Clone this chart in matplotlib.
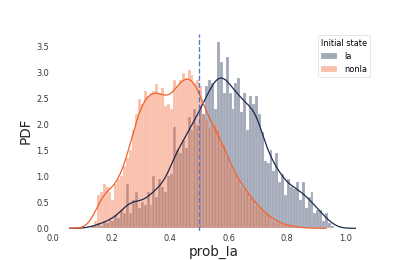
import numpy as np
import matplotlib
matplotlib.use("Agg")
import matplotlib.pyplot as plt

# ---- data (density per bin, bin width 0.01) ----
bin_width = 0.01
ia_start = 0.13
ia_density = [0.05, 0.05, 0.10, 0.05, 0.15, 0.10, 0.20, 0.15, 0.25, 0.20,
              0.35, 0.30, 0.85, 0.30, 0.55, 0.70, 0.40, 0.50, 0.45, 0.70,
              0.45, 1.00, 0.60, 0.95, 0.80, 0.70, 1.00, 1.05, 1.95, 1.50,
              1.45, 1.70, 1.55, 2.15, 1.90, 2.30, 2.00, 2.35, 2.20, 2.75,
              2.85, 2.80, 2.30, 3.60, 3.20, 2.60, 3.30, 2.60, 2.30, 2.80,
              2.90, 2.25, 2.60, 1.90, 2.55, 2.40, 2.55, 2.20, 1.85, 1.30,
              1.25, 1.50, 1.10, 1.45, 0.90, 1.05, 0.65, 0.95, 0.80, 0.75,
              0.90, 0.55, 0.90, 0.40, 0.60, 0.70, 0.30, 0.35, 0.35, 0.15,
              0.30, 0.10, 0.05]
nonia_start = 0.13
nonia_density = [0.05, 0.15, 0.65, 0.70, 0.85, 0.80, 0.70, 0.55, 0.85, 0.95,
                 1.00, 1.20, 1.35, 1.50, 1.90, 2.20, 2.50, 2.40, 2.65, 2.55,
                 2.60, 2.65, 2.78, 2.60, 2.70, 2.35, 2.40, 2.30, 2.85, 2.75,
                 2.85, 3.00, 2.90, 3.05, 2.95, 2.80, 2.85, 2.75, 2.20, 2.10,
                 1.95, 2.05, 2.00, 1.90, 1.65, 1.60, 1.35, 1.20, 1.10, 1.05,
                 0.95, 0.80, 0.75, 0.70, 0.60, 0.55, 0.45, 0.40, 0.35, 0.30,
                 0.25, 0.20, 0.15, 0.12, 0.10, 0.08, 0.06, 0.05, 0.04, 0.03,
                 0.02, 0.02, 0.01]
threshold = 0.5
labels = ["Ia", "nonIa"]
x_ticks = [0.0, 0.2, 0.4, 0.6, 0.8, 1.0]
y_ticks = [0.0, 0.5, 1.0, 1.5, 2.0, 2.5, 3.0, 3.5]

ia_color = "#1b2a4e"
nonia_color = "#f4612d"
bw = 0.026


def edges_for(start, dens):
    return start + bin_width * np.arange(len(dens) + 1)


def weighted_kde(start, dens):
    dens = np.asarray(dens)
    centers = start + bin_width * (np.arange(len(dens)) + 0.5)
    grid = np.linspace(centers.min() - 3 * bw, centers.max() + 3 * bw, 400)
    k = np.exp(-0.5 * ((grid[:, None] - centers[None, :]) / bw) ** 2) / (bw * np.sqrt(2 * np.pi))
    area = dens.sum() * bin_width
    y = (k * dens[None, :]).sum(axis=1) / dens.sum() * area
    return grid, y


fig = plt.figure(figsize=(6.4, 4), dpi=65)
ax = fig.add_axes([0.125, 0.11, 0.775, 0.77])

for start, dens, col, lab in [(ia_start, ia_density, ia_color, labels[0]),
                              (nonia_start, nonia_density, nonia_color, labels[1])]:
    e = edges_for(start, dens)
    ax.bar(e[:-1], dens, width=bin_width, align="edge", color=col, alpha=0.4,
           edgecolor="white", linewidth=0.4, label=lab)
for start, dens, col in [(ia_start, ia_density, ia_color),
                         (nonia_start, nonia_density, nonia_color)]:
    gx, gy = weighted_kde(start, dens)
    ax.plot(gx, gy, color=col, lw=1.4)

ax.axvline(threshold, ymin=0.0, ymax=0.985, color="#4f79d6", ls="--", lw=1.5, zorder=5)

ax.set_xlim(-0.003, 1.098)
ax.set_ylim(-0.06, 3.80)
ax.set_xticks(x_ticks)
ax.set_yticks(y_ticks)
ax.tick_params(length=0, labelsize=9, colors="#333333", pad=3)
for s in ax.spines.values():
    s.set_visible(False)
ax.set_xlabel("prob_Ia", fontsize=15, color="#222222", labelpad=2)
ax.set_ylabel("PDF", fontsize=15, color="#222222")
leg = ax.legend(title="Initial state", loc="upper right", fontsize=9,
                title_fontsize=9, frameon=True)
leg.get_frame().set_edgecolor("#dddddd")

fig.savefig("out.png", dpi=65)
